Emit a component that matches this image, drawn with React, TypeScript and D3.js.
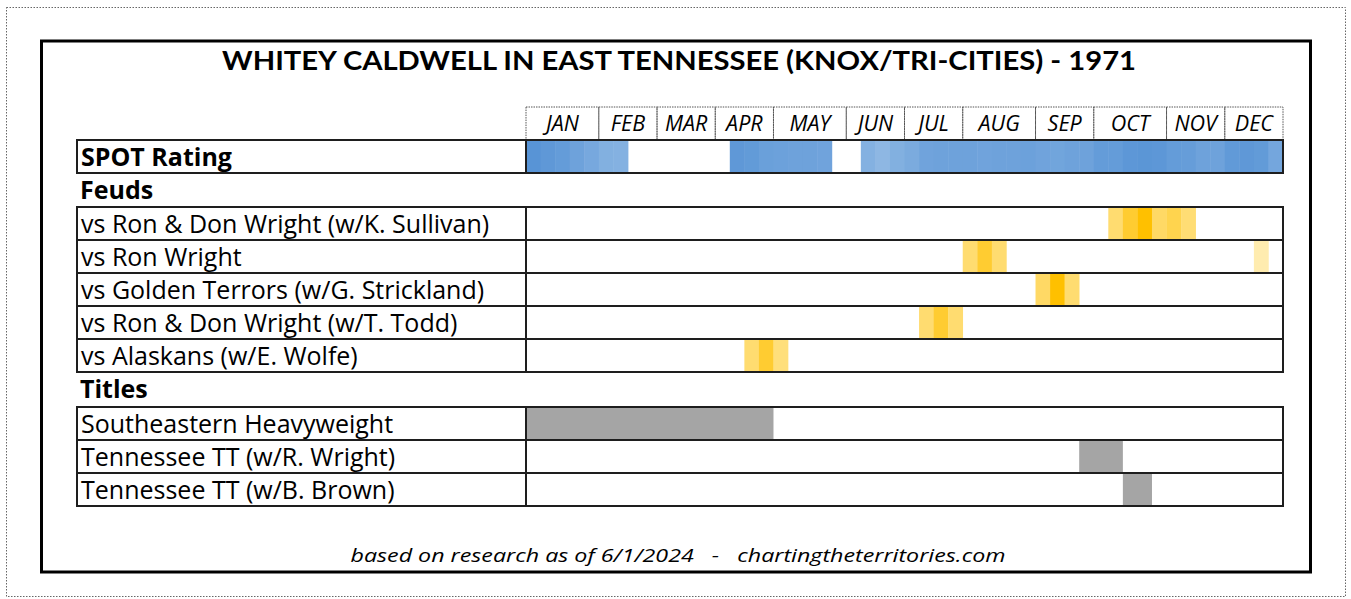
import React from "react";
import * as d3 from "d3";

const TITLE = "WHITEY CALDWELL IN EAST TENNESSEE (KNOX/TRI-CITIES) - 1971";
const FOOTER = "based on research as of 6/1/2024   -   chartingtheterritories.com";

const months = ["JAN", "FEB", "MAR", "APR", "MAY", "JUN", "JUL", "AUG", "SEP", "OCT", "NOV", "DEC"];
const weeksPerMonth = [5, 4, 4, 4, 5, 4, 4, 5, 4, 5, 4, 4];

// SPOT rating per week (0..1 intensity), null = no data
const spotRating: (number | null)[] = [
  0.85, 0.78, 0.72, 0.62, 0.52, 0.4, 0.38,
  null, null, null, null, null, null, null,
  0.78, 0.74, 0.66, 0.64, 0.62, 0.62, 0.6,
  null, null,
  0.38, 0.28, 0.4, 0.48, 0.6, 0.62, 0.62, 0.62, 0.6, 0.62, 0.62, 0.64, 0.6, 0.58, 0.62, 0.62,
  0.72, 0.72, 0.8, 0.82, 0.8, 0.72, 0.7, 0.62, 0.62, 0.76, 0.78, 0.74, 0.55,
];

const feudLabels = [
  "vs Ron & Don Wright (w/K. Sullivan)",
  "vs Ron Wright",
  "vs Golden Terrors (w/G. Strickland)",
  "vs Ron & Don Wright (w/T. Todd)",
  "vs Alaskans (w/E. Wolfe)",
];
// [week, intensity]
const feudCells: [number, number][][] = [
  [[40, 0.5], [41, 0.78], [42, 1], [43, 0.55], [44, 0.65], [45, 0.48]],
  [[30, 0.5], [31, 0.78], [32, 0.5], [50, 0.22]],
  [[35, 0.55], [36, 1], [37, 0.5]],
  [[27, 0.5], [28, 0.78], [29, 0.5]],
  [[15, 0.5], [16, 0.78], [17, 0.45]],
];

const titleLabels = [
  "Southeastern Heavyweight",
  "Tennessee TT (w/R. Wright)",
  "Tennessee TT (w/B. Brown)",
];
// [startWeek, endWeek) held
const titleSpans: [number, number][] = [
  [0, 17],
  [38, 41],
  [41, 43],
];

const FONT = "'Open Sans', 'Noto Sans', sans-serif";
const TITLE_FONT = "Lato, 'Noto Sans', sans-serif";

export default function App() {
  const x = d3.scaleLinear().domain([0, 52]).range([526, 1283]);
  const blue = d3.scaleLinear<string>().domain([0, 1]).range(["#a8c8ea", "#4a8bd2"]);
  const gold = d3.scaleLinear<string>().domain([0, 1]).range(["#fff8e0", "#ffc000"]);

  const monthStarts = d3.cumsum([0, ...weeksPerMonth]);
  const labelLeft = 77;
  const tlLeft = x(0);
  const tlRight = x(52);
  const rowH = 33;
  const LS = 25;

  const spotTop = 140;
  const feudTops = feudLabels.map((_, i) => 207 + i * rowH);
  const titleTops = titleLabels.map((_, i) => 407 + i * rowH);

  const lineColor = "#1e1e1e";
  const lineW = 2;

  const rowFrame = (top: number, key: string) => (
    <g key={key}>
      <rect x={labelLeft} y={top} width={tlLeft - labelLeft} height={rowH} fill="none" stroke={lineColor} strokeWidth={lineW} />
      <rect x={tlLeft} y={top} width={tlRight - tlLeft} height={rowH} fill="none" stroke={lineColor} strokeWidth={lineW} />
    </g>
  );

  return (
    <svg width={1351} height={599} style={{ position: "absolute", left: 0, top: 0, background: "#fff" }} fontFamily={FONT}>
      <rect x={0} y={0} width={1351} height={599} fill="#fff" />
      <rect x={6.5} y={7.5} width={1339} height={589} fill="none" stroke="#666" strokeWidth={1} strokeDasharray="1.5,1.5" />
      <rect x={41.5} y={41} width={1269} height={531} fill="none" stroke="#000" strokeWidth={3} />

      <text x={679} y={70} textAnchor="middle" fontSize={26} fontWeight={700} fontFamily={TITLE_FONT} textLength={914} lengthAdjust="spacingAndGlyphs">
        {TITLE}
      </text>

      {/* month header */}
      {months.map((m, i) => {
        const x0 = x(monthStarts[i]);
        const x1 = x(monthStarts[i + 1]);
        return (
          <g key={m}>
            <rect x={x0} y={107} width={x1 - x0} height={33} fill="none" stroke="#555" strokeWidth={1} strokeDasharray="1.5,1" />
            <text x={(x0 + x1) / 2} y={131} textAnchor="middle" fontSize={21.5} fontStyle="italic">
              {m}
            </text>
          </g>
        );
      })}

      {/* SPOT rating */}
      {spotRating.map((v, w) =>
        v == null ? null : (
          <rect key={"s" + w} x={x(w)} y={spotTop} width={x(w + 1) - x(w) + 0.5} height={rowH} fill={blue(v)} />
        )
      )}
      {rowFrame(spotTop, "spotframe")}
      <text x={81} y={spotTop + 26} fontSize={LS} fontWeight={700}>SPOT Rating</text>

      {/* Feuds */}
      <text x={80} y={199} fontSize={LS} fontWeight={700}>Feuds</text>
      {feudLabels.map((lab, i) => (
        <g key={lab + i}>
          {feudCells[i].map(([w, v]) => (
            <rect key={w} x={x(w)} y={feudTops[i]} width={x(w + 1) - x(w) + 0.3} height={rowH} fill={gold(v)} />
          ))}
          {rowFrame(feudTops[i], "ff" + i)}
          <text x={81} y={feudTops[i] + 26} fontSize={LS}>{lab}</text>
        </g>
      ))}

      {/* Titles */}
      <text x={80} y={398} fontSize={LS} fontWeight={700}>Titles</text>
      {titleLabels.map((lab, i) => (
        <g key={lab}>
          <rect x={x(titleSpans[i][0])} y={titleTops[i]} width={x(titleSpans[i][1]) - x(titleSpans[i][0])} height={rowH} fill="#a5a5a5" />
          {rowFrame(titleTops[i], "tf" + i)}
          <text x={81} y={titleTops[i] + 26} fontSize={LS}>{lab}</text>
        </g>
      ))}

      <text x={678} y={562} textAnchor="middle" fontSize={19} fontStyle="italic" textLength={655} lengthAdjust="spacingAndGlyphs" xmlSpace="preserve" style={{ whiteSpace: "pre" }}>
        {FOOTER}
      </text>
    </svg>
  );
}
